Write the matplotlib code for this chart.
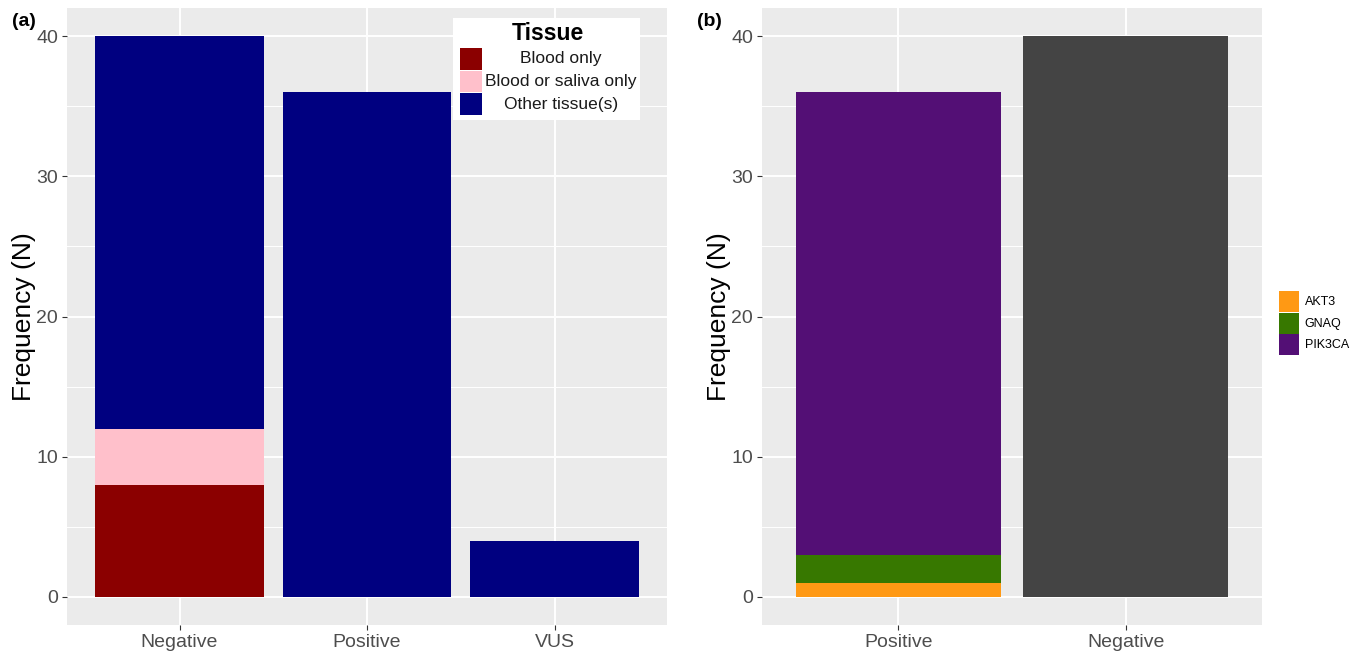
import numpy as np
import matplotlib
matplotlib.use('Agg')
import matplotlib.pyplot as plt
from matplotlib.patches import Rectangle, Patch

plt.rcParams['font.family'] = ['Liberation Sans', 'DejaVu Sans']

# panel (a) data
cat_a = ['Negative', 'Positive', 'VUS']
blood_only = [8, 0, 0]
blood_saliva = [4, 0, 0]
other_tissue = [28, 36, 4]
tissue_labels = ['Blood only', 'Blood or saliva only', 'Other tissue(s)']
tissue_colors = ['#8B0000', '#FFC0CB', '#000080']

# panel (b) data
cat_b = ['Positive', 'Negative']
akt3 = [1, 0]
gnaq = [2, 0]
pik3ca = [33, 0]
negative_b = [0, 40]
gene_labels = ['AKT3', 'GNAQ', 'PIK3CA']
gene_colors = ['#FF9914', '#377800', '#530F75']
neg_color = '#444444'

W, H = 1358, 653
fig = plt.figure(figsize=(W / 100, H / 100), dpi=100)


def px(x, y):
    return x / W, 1 - y / H


def style(ax, n):
    ax.set_facecolor('#EBEBEB')
    for s in ax.spines.values():
        s.set_visible(False)
    ax.set_ylim(-2, 42)
    ax.set_xlim(0.4, n + 0.6)
    ax.set_yticks([0, 10, 20, 30, 40])
    ax.set_yticks([5, 15, 25, 35], minor=True)
    ax.set_xticks(np.arange(1, n + 1))
    ax.grid(True, which='major', color='white', linewidth=1.4)
    ax.grid(True, which='minor', axis='y', color='white', linewidth=0.7)
    ax.set_axisbelow(True)
    ax.tick_params(which='major', length=3.5, width=0.8, color='#333333',
                   labelcolor='#4D4D4D', labelsize=14, pad=3)
    ax.tick_params(which='minor', length=0)
    ax.set_ylabel('Frequency (N)', fontsize=19, labelpad=0)


ax1 = fig.add_axes([67 / W, 1 - 625 / H, 600 / W, 617 / H])
ax2 = fig.add_axes([762 / W, 1 - 625 / H, 500 / W, 617 / H])
style(ax1, 3)
style(ax2, 2)

# (a) stacked bars
xa = np.arange(1, len(cat_a) + 1)
bottom = np.zeros(len(cat_a))
for vals, col in zip([blood_only, blood_saliva, other_tissue], tissue_colors):
    ax1.bar(xa, vals, width=0.9, bottom=bottom, color=col, linewidth=0)
    bottom += np.array(vals)
ax1.set_xticklabels(cat_a)

# (b) stacked bars
xb = np.arange(1, len(cat_b) + 1)
bottom = np.zeros(len(cat_b))
for vals, col in zip([akt3, gnaq, pik3ca], gene_colors):
    ax2.bar(xb, vals, width=0.9, bottom=bottom, color=col, linewidth=0)
    bottom += np.array(vals)
ax2.bar(xb, negative_b, width=0.9, color=neg_color, linewidth=0)
ax2.set_xticklabels(cat_b)

# panel tags
fig.text(*px(12, 22), '(a)', fontsize=14, fontweight='bold', va='center', ha='left')
fig.text(*px(697, 22), '(b)', fontsize=14, fontweight='bold', va='center', ha='left')

# legend (a), drawn by hand so the labels are centred like ggplot
x0, y0 = px(453, 120)
x1, y1 = px(640, 18)
fig.add_artist(Rectangle((x0, y0), x1 - x0, y1 - y0, transform=fig.transFigure,
                         facecolor='white', edgecolor='none'))
fig.text(*px(548, 33), 'Tissue', fontsize=16.5, fontweight='bold',
         ha='center', va='center')
for i, (lab, col) in enumerate(zip(tissue_labels, tissue_colors)):
    top = 48 + i * 22.5
    kx, ky = px(460, top + 21.5)
    fig.add_artist(Rectangle((kx, ky), 22 / W, 21.5 / H, transform=fig.transFigure,
                             facecolor=col, edgecolor='none'))
    fig.text(*px(561, top + 11), lab, fontsize=12.5, ha='center', va='center',
             color='#1A1A1A')

# legend (b)
handles = [Patch(facecolor=c, edgecolor='none', label=l)
           for c, l in zip(gene_colors, gene_labels)]
fig.legend(handles=handles, loc='upper left', bbox_to_anchor=px(1279, 291),
           fontsize=9, frameon=False, handlelength=1.6, handleheight=2.2,
           handletextpad=0.45, labelspacing=0.05, borderpad=0, borderaxespad=0)

fig.savefig('out.png', dpi=100)
